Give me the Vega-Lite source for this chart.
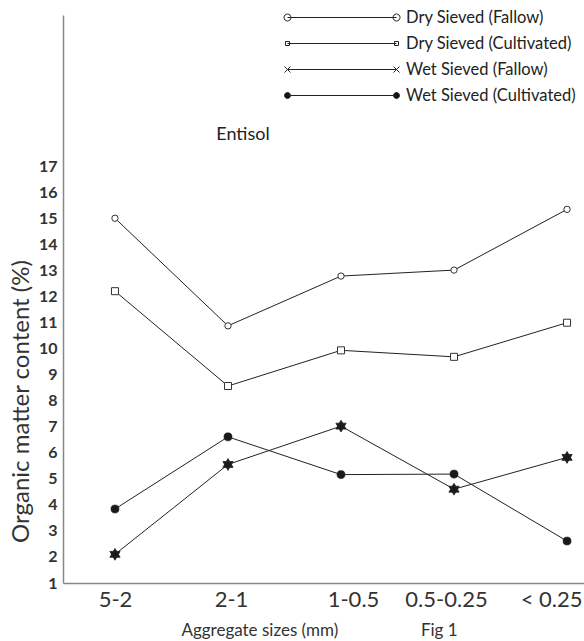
{
  "$schema": "https://vega.github.io/schema/vega-lite/v6.json",
  "width": 521,
  "height": 568,
  "autosize": {"type": "none"},
  "padding": {"left": 63, "top": 15, "right": 0, "bottom": 58},
  "background": "white",
  "config": {"view": {"stroke": null}, "font": "Lato"},
  "data": {
    "values": [
      {"series": "Dry Sieved (Fallow)", "size": "5-2", "om": 15.0},
      {"series": "Dry Sieved (Fallow)", "size": "2-1", "om": 10.87},
      {"series": "Dry Sieved (Fallow)", "size": "1-0.5", "om": 12.78},
      {"series": "Dry Sieved (Fallow)", "size": "0.5-0.25", "om": 13.01},
      {"series": "Dry Sieved (Fallow)", "size": "< 0.25", "om": 15.34},
      {"series": "Dry Sieved (Cultivated)", "size": "5-2", "om": 12.2},
      {"series": "Dry Sieved (Cultivated)", "size": "2-1", "om": 8.56},
      {"series": "Dry Sieved (Cultivated)", "size": "1-0.5", "om": 9.93},
      {"series": "Dry Sieved (Cultivated)", "size": "0.5-0.25", "om": 9.68},
      {"series": "Dry Sieved (Cultivated)", "size": "< 0.25", "om": 10.99},
      {"series": "Wet Sieved (Fallow)", "size": "5-2", "om": 2.1},
      {"series": "Wet Sieved (Fallow)", "size": "2-1", "om": 5.55},
      {"series": "Wet Sieved (Fallow)", "size": "1-0.5", "om": 7.02},
      {"series": "Wet Sieved (Fallow)", "size": "0.5-0.25", "om": 4.6},
      {"series": "Wet Sieved (Fallow)", "size": "< 0.25", "om": 5.82},
      {"series": "Wet Sieved (Cultivated)", "size": "5-2", "om": 3.84},
      {"series": "Wet Sieved (Cultivated)", "size": "2-1", "om": 6.61},
      {"series": "Wet Sieved (Cultivated)", "size": "1-0.5", "om": 5.16},
      {"series": "Wet Sieved (Cultivated)", "size": "0.5-0.25", "om": 5.18},
      {"series": "Wet Sieved (Cultivated)", "size": "< 0.25", "om": 2.61}
    ]
  },
  "encoding": {
    "x": {
      "field": "size",
      "type": "nominal",
      "scale": {"type": "point", "domain": ["5-2", "2-1", "1-0.5", "0.5-0.25", "< 0.25"], "padding": 0.305, "align": 0.754},
      "axis": {
        "title": "Aggregate sizes (mm)\u00a0\u00a0\u00a0\u00a0\u00a0\u00a0\u00a0\u00a0\u00a0\u00a0\u00a0\u00a0\u00a0\u00a0\u00a0\u00a0\u00a0\u00a0\u00a0Fig 1",
        "labelAngle": 0,
        "ticks": false,
        "domainColor": "#888",
        "domainWidth": 1.5,
        "labelFontSize": 22,
        "labelColor": "#333",
        "labelPadding": 6,
        "labelAlign": {"condition": {"test": "datum.value === '< 0.25'", "value": "right"}, "value": "center"},
        "labelOffset": {
          "condition": [
            {"test": "datum.value === '2-1'", "value": 3},
            {"test": "datum.value === '1-0.5'", "value": 12},
            {"test": "datum.value === '0.5-0.25'", "value": -8},
            {"test": "datum.value === '< 0.25'", "value": 15}
          ],
          "value": 0
        },
        "titleFontSize": 17,
        "titleFontWeight": "normal",
        "titleColor": "#333",
        "titleX": 256,
        "titleY": 47,
        "titleAlign": "center",
        "titleBaseline": "middle"
      }
    },
    "y": {
      "field": "om",
      "type": "quantitative",
      "scale": {"domain": [1, 22.8], "nice": false, "zero": false},
      "axis": {
        "values": [1, 2, 3, 4, 5, 6, 7, 8, 9, 10, 11, 12, 13, 14, 15, 16, 17],
        "title": "Organic matter content (%)",
        "grid": false,
        "ticks": false,
        "domainColor": "#888",
        "domainWidth": 1.5,
        "labelFontWeight": "bold",
        "labelFontSize": 16,
        "labelColor": "#333",
        "labelPadding": 6,
        "labelFlush": false,
        "titleFontSize": 24,
        "titleFontWeight": "normal",
        "titleColor": "#333",
        "titleX": -42,
        "titleY": 386,
        "titleAngle": -90,
        "titleAlign": "center",
        "titleBaseline": "middle"
      }
    }
  },
  "layer": [
    {
      "mark": {"type": "line", "strokeWidth": 1},
      "encoding": {
        "color": {
          "field": "series",
          "type": "nominal",
          "scale": {
            "domain": ["Dry Sieved (Fallow)", "Dry Sieved (Cultivated)", "Wet Sieved (Fallow)", "Wet Sieved (Cultivated)"],
            "range": ["#222222", "#222222", "#222222", "#222222"]
          },
          "legend": {
            "title": null,
            "orient": "none",
            "legendX": 224,
            "legendY": -8,
            "symbolSize": 400,
            "symbolStrokeWidth": 1,
            "labelOffset": 98,
            "labelFontSize": 16.5,
            "labelLimit": 400,
            "labelColor": "#222",
            "rowPadding": 7,
            "encode": {
              "symbols": {
                "update": {
                  "shape": {"signal": "datum.value === 'Dry Sieved (Fallow)' ? 'M-1,0L9.9,0M-0.65,0A0.35,0.35 0 1,1 -1.35,0A0.35,0.35 0 1,1 -0.65,0M10.25,0A0.35,0.35 0 1,1 9.55,0A0.35,0.35 0 1,1 10.25,0' : datum.value === 'Dry Sieved (Cultivated)' ? 'M-1,0L9.9,0M-1.2,-0.2L-0.8,-0.2L-0.8,0.2L-1.2,0.2ZM9.7,-0.2L10.1,-0.2L10.1,0.2L9.7,0.2Z' : datum.value === 'Wet Sieved (Fallow)' ? 'M-1,0L9.9,0M-1.3,-0.3L-0.7,0.3M-1.3,0.3L-0.7,-0.3M9.6,-0.3L10.2,0.3M9.6,0.3L10.2,-0.3' : 'M-1,0L9.9,0M-0.7,0A0.3,0.3 0 1,1 -1.3,0A0.3,0.3 0 1,1 -0.7,0M10.2,0A0.3,0.3 0 1,1 9.6,0A0.3,0.3 0 1,1 10.2,0'"},
                  "fill": {"signal": "datum.value === 'Wet Sieved (Cultivated)' ? '#111' : '#fff'"},
                  "fillOpacity": {"value": 1},
                  "stroke": {"value": "#222"},
                  "strokeWidth": {"value": 1},
                  "opacity": {"value": 1},
                  "size": {"value": 400}
                }
              }
            }
          }
        }
      }
    },
    {
      "transform": [{"filter": "datum.series === 'Dry Sieved (Fallow)'"}],
      "mark": {"type": "point", "shape": "circle", "filled": true, "fill": "#ffffff", "stroke": "#333", "strokeWidth": 1, "size": 40, "opacity": 1}
    },
    {
      "transform": [{"filter": "datum.series === 'Dry Sieved (Cultivated)'"}],
      "mark": {"type": "point", "shape": "square", "filled": true, "fill": "#ffffff", "stroke": "#333", "strokeWidth": 1, "size": 49, "opacity": 1}
    },
    {
      "transform": [{"filter": "datum.series === 'Wet Sieved (Fallow)'"}],
      "mark": {"type": "point", "shape": "M0,-1L0.866,0.5L-0.866,0.5Z M0,1L-0.866,-0.5L0.866,-0.5Z", "filled": true, "fill": "#1a1a1a", "stroke": "#222", "strokeWidth": 0.8, "size": 140, "opacity": 1}
    },
    {
      "transform": [{"filter": "datum.series === 'Wet Sieved (Cultivated)'"}],
      "mark": {"type": "point", "shape": "circle", "filled": true, "fill": "#1a1a1a", "stroke": "#222", "strokeWidth": 0.5, "size": 66, "opacity": 1}
    },
    {
      "data": {"values": [{"label": "Entisol", "size": "2-1", "om": 18.2}]},
      "mark": {"type": "text", "fontSize": 18, "color": "#222", "dx": 15, "baseline": "middle", "align": "center"},
      "encoding": {"text": {"field": "label"}}
    }
  ]
}
